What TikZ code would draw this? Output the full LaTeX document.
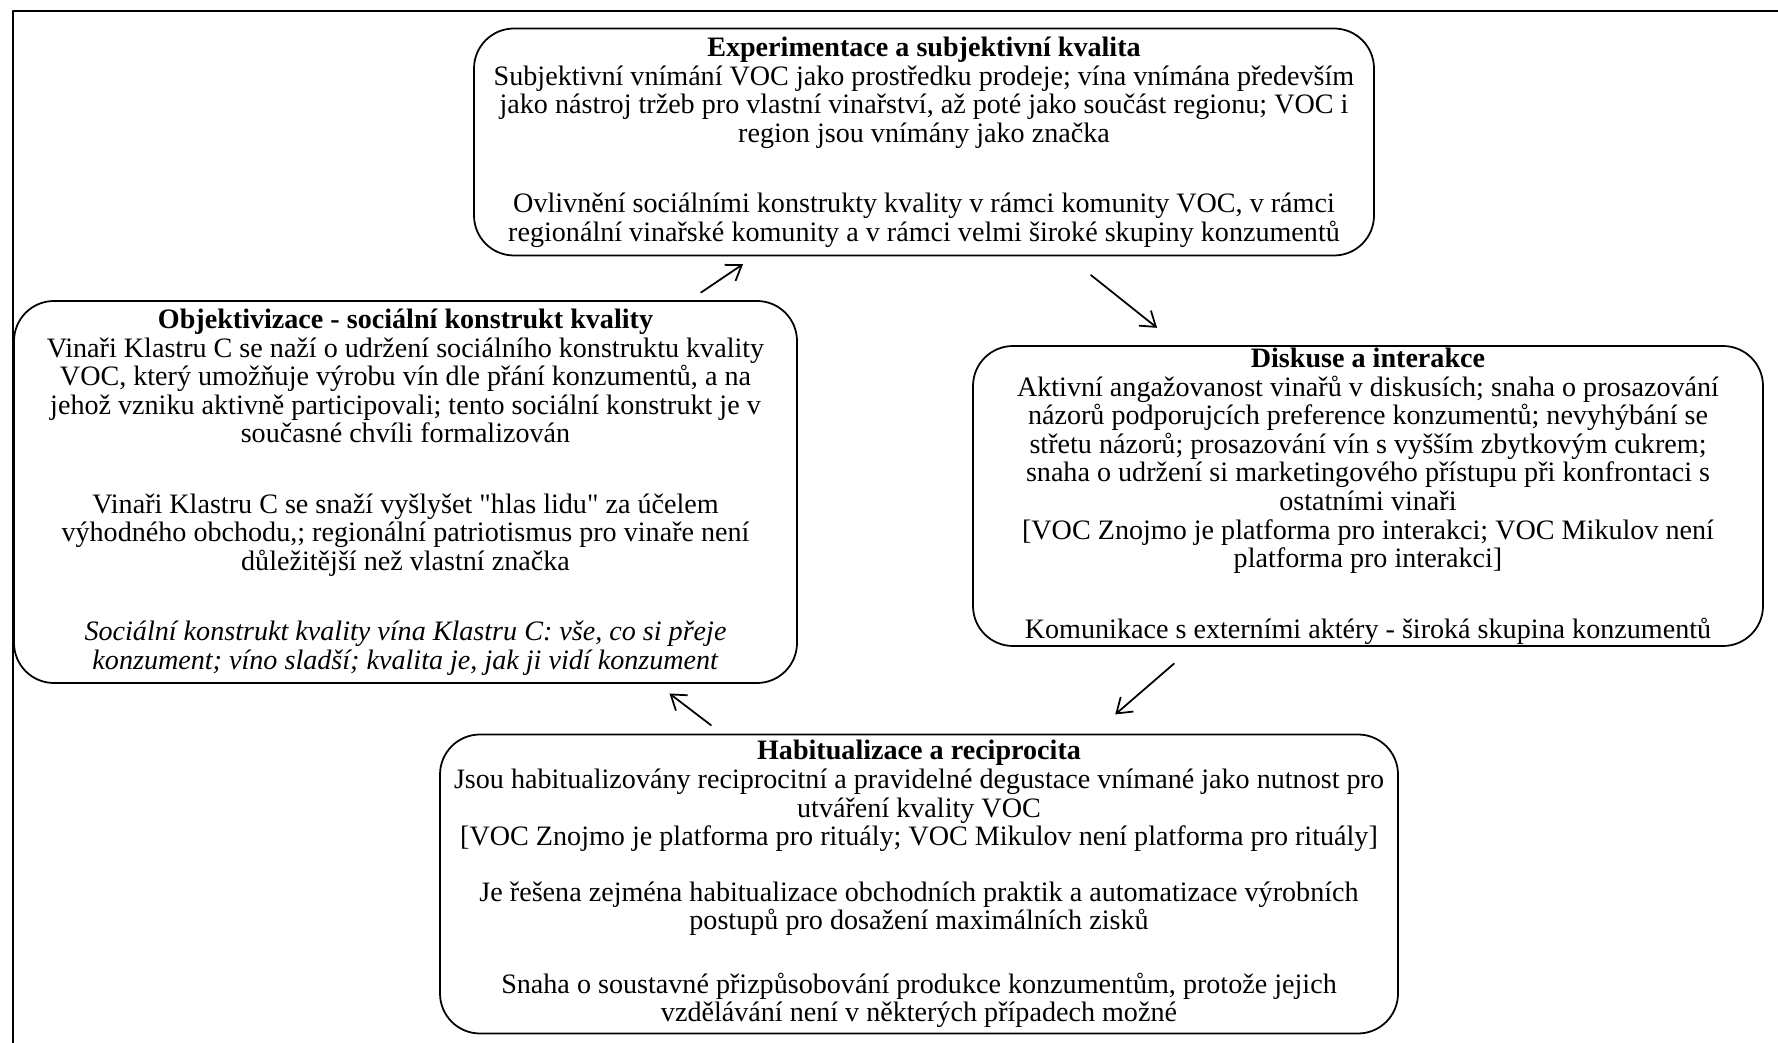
\documentclass[tikz,border=0pt]{standalone}
\usepackage{fontspec}
\setmainfont{Liberation Serif}[Ligatures=TeXOff]
\usetikzlibrary{arrows.meta,calc,positioning}

\begin{document}
\begin{tikzpicture}[>={Straight Barb[length=4pt,width=5.5pt]},line cap=round,line join=round,
 phase/.style={draw,rounded corners=0.4cm,line width=0.5pt,align=center,inner sep=0pt,
  font=\fontsize{8}{8.15}\selectfont},
 flow/.style={->,line width=0.5pt}]
 \useasboundingbox (0,0) rectangle (17.78,-10.43);
 \draw[line width=0.7pt] (0.13,-10.43) -- (0.13,-0.11) -- (17.78,-0.11);
 % the four phases
 \node[phase,minimum width=9cm,minimum height=2.27cm] (exper) at (9.24,-1.42)
  {\textbf{Experimentace a subjektivní kvalita}\\
   Subjektivní vnímání VOC jako prostředku prodeje; vína vnímána především\\
   jako nástroj tržeb pro vlastní vinařství, až poté jako součást regionu; VOC i\\
   region jsou vnímány jako značka\\[11.8pt]
   Ovlivnění sociálními konstrukty kvality v rámci komunity VOC, v rámci\\
   regionální vinařské komunity a v rámci velmi široké skupiny konzumentů};
 \node[phase,minimum width=7.83cm,minimum height=3.82cm] (objekt) at (4.055,-4.92)
  {\textbf{Objektivizace - sociální konstrukt kvality}\\
   Vinaři Klastru C se naží o udržení sociálního konstruktu kvality\\
   VOC, který umožňuje výrobu vín dle přání konzumentů, a na\\
   jehož vzniku aktivně participovali; tento sociální konstrukt je v\\
   současné chvíli formalizován\\[11.8pt]
   Vinaři Klastru C se snaží vyšlyšet "hlas lidu" za účelem\\
   výhodného obchodu,; regionální patriotismus pro vinaře není\\
   důležitější než vlastní značka\\[11.8pt]
   \textit{Sociální konstrukt kvality vína Klastru C: vše, co si přeje}\\
   \textit{konzument; víno sladší; kvalita je, jak ji vidí konzument}};
 \node[phase,minimum width=7.9cm,minimum height=3cm] (disk) at (13.68,-4.96)
  {\textbf{Diskuse a interakce}\\
   Aktivní angažovanost vinařů v diskusích; snaha o prosazování\\
   názorů podporujcích preference konzumentů; nevyhýbání se\\
   střetu názorů; prosazování vín s vyšším zbytkovým cukrem;\\
   snaha o udržení si marketingového přístupu při konfrontaci s\\
   ostatními vinaři\\
   {[VOC Znojmo je platforma pro interakci; VOC Mikulov není}\\
   platforma pro interakci]\\[11.8pt]
   Komunikace s externími aktéry - široká skupina konzumentů};
 \node[phase,minimum width=9.58cm,minimum height=2.99cm] (habit) at (9.19,-8.84)
  {\textbf{Habitualizace a reciprocita}\\
   Jsou habitualizovány reciprocitní a pravidelné degustace vnímané jako nutnost pro\\
   utváření kvality VOC\\
   {[VOC Znojmo je platforma pro rituály; VOC Mikulov není platforma pro rituály]}\\[7.6pt]
   Je řešena zejména habitualizace obchodních praktik a automatizace výrobních\\
   postupů pro dosažení maximálních zisků\\[9.9pt]
   Snaha o soustavné přizpůsobování produkce konzumentům, protože jejich\\
   vzdělávání není v některých případech možné};
 % cycle arrows
 \draw[flow] ($(objekt)!0.57!(exper)$) -- ($(objekt)!0.651!(exper)$);
 \draw[flow] ($(exper)!0.376!(disk)$) -- ($(exper)!0.525!(disk)$);
 \draw[flow] ($(disk)!0.432!(habit)$) -- ($(disk)!0.563!(habit)$);
 \draw[flow] ($(habit)!0.405!(objekt)$) -- ($(habit)!0.486!(objekt)$);
\end{tikzpicture}
\end{document}
